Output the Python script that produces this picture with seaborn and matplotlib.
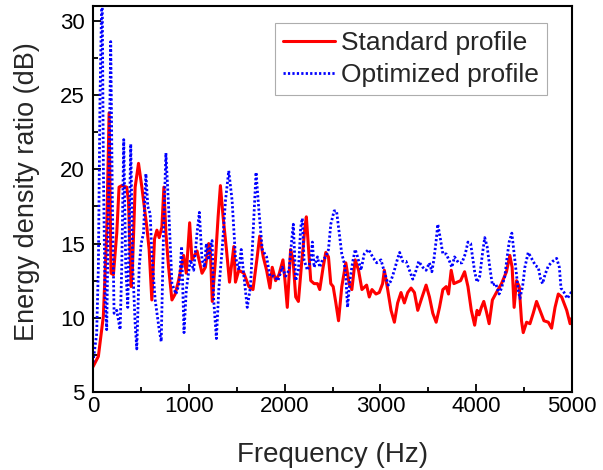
import matplotlib
matplotlib.use("Agg")
import matplotlib.pyplot as plt
import seaborn as sns
import pandas as pd
from matplotlib.ticker import MultipleLocator

std_freq = [0, 56, 108, 143, 168, 188, 213, 248, 272, 300, 352, 370, 398, 412, 440, 475, 510, 562, 586, 614,
            642, 667, 691, 719, 740, 761, 789, 824, 858, 893, 946, 974, 1009, 1033, 1086, 1138, 1173, 1208, 1225, 1245,
            1278, 1306, 1330, 1358, 1393, 1425, 1470, 1487, 1522, 1575, 1627, 1670, 1714, 1740, 1777, 1812, 1847, 1871, 1906, 1941,
            1983, 2004, 2028, 2063, 2088, 2116, 2144, 2178, 2213, 2227, 2248, 2273, 2308, 2343, 2367, 2402, 2430, 2458, 2482, 2507,
            2535, 2563, 2597, 2639, 2674, 2702, 2737, 2772, 2807, 2856, 2884, 2912, 2954, 2988, 3023, 3041, 3076, 3111, 3146, 3180,
            3215, 3250, 3285, 3320, 3355, 3390, 3425, 3477, 3512, 3547, 3582, 3617, 3652, 3687, 3711, 3739, 3767, 3802, 3837, 3879,
            3914, 3949, 3984, 4009, 4030, 4054, 4079, 4107, 4135, 4169, 4211, 4264, 4316, 4351, 4375, 4396, 4421, 4449, 4473, 4491,
            4526, 4561, 4595, 4630, 4665, 4707, 4753, 4787, 4823, 4857, 4892, 4945, 4980, 5000]
std_db = [6.7, 7.4, 10.1, 15.7, 23.8, 13.0, 12.9, 15.7, 18.8, 18.9, 18.8, 17.9, 12.1, 13.4, 18.8, 20.4, 18.8, 16.1, 14.6, 11.2,
          15.3, 15.9, 15.4, 16.1, 18.8, 15.7, 13.4, 11.2, 11.6, 12.5, 14.2, 13.0, 16.4, 13.9, 14.5, 13.0, 13.4, 15.0, 14.5, 11.1,
          13.9, 16.8, 18.9, 16.8, 14.6, 12.4, 14.8, 12.4, 13.2, 13.0, 12.1, 11.9, 14.1, 15.5, 14.1, 13.2, 12.0, 13.4, 12.5, 12.9,
          13.9, 12.5, 10.7, 14.6, 13.9, 11.4, 11.1, 13.7, 16.1, 16.8, 14.8, 12.5, 12.3, 12.3, 11.9, 13.4, 14.4, 14.1, 12.3, 12.1,
          11.0, 9.8, 12.1, 13.7, 12.3, 11.9, 13.9, 13.2, 11.9, 12.2, 11.4, 11.9, 11.6, 11.7, 12.3, 13.2, 11.9, 10.5, 9.7, 11.0,
          11.7, 11.0, 11.7, 12.0, 11.7, 10.5, 11.2, 12.2, 11.4, 10.3, 9.7, 10.7, 11.9, 12.1, 11.6, 13.2, 12.3, 12.4, 12.5, 13.1,
          12.1, 10.5, 9.5, 10.5, 10.2, 10.7, 11.1, 10.4, 9.6, 11.2, 11.7, 12.3, 13.1, 14.2, 13.4, 10.7, 12.5, 12.1, 9.8, 9.0,
          9.7, 9.6, 10.3, 11.1, 10.5, 9.8, 9.7, 9.3, 10.7, 11.6, 11.4, 10.5, 9.6, 10.0]

opt_freq = [0, 38, 56, 73, 95, 108, 126, 143, 168, 185, 202, 220, 248, 283, 300, 321, 342, 363, 394, 415,
            440, 457, 482, 503, 527, 552, 572, 597, 614, 649, 691, 712, 736, 761, 789, 824, 866, 900, 925, 950,
            974, 1016, 1051, 1086, 1110, 1138, 1163, 1183, 1208, 1225, 1243, 1260, 1288, 1313, 1348, 1383, 1417, 1452, 1487, 1522,
            1547, 1575, 1610, 1644, 1679, 1702, 1732, 1767, 1812, 1847, 1889, 1931, 1976, 2011, 2046, 2074, 2091, 2116, 2144, 2168,
            2185, 2203, 2238, 2273, 2290, 2308, 2343, 2367, 2395, 2430, 2458, 2482, 2517, 2542, 2570, 2597, 2622, 2639, 2657, 2681,
            2709, 2737, 2762, 2797, 2831, 2877, 2919, 2961, 3006, 3041, 3069, 3083, 3111, 3146, 3180, 3201, 3233, 3268, 3303, 3338,
            3373, 3400, 3442, 3477, 3512, 3537, 3558, 3582, 3599, 3624, 3652, 3687, 3722, 3746, 3774, 3816, 3851, 3886, 3914, 3942,
            3966, 3984, 4009, 4037, 4065, 4089, 4114, 4142, 4169, 4204, 4239, 4264, 4299, 4323, 4344, 4372, 4396, 4421, 4438, 4456,
            4484, 4508, 4543, 4578, 4620, 4648, 4672, 4693, 4718, 4753, 4798, 4840, 4868, 4885, 4917, 4952, 4980, 5000]
opt_db = [7.0, 8.9, 13.4, 24.7, 33.0, 20.2, 11.2, 9.2, 20.2, 28.6, 17.9, 10.3, 10.5, 9.2, 13.4, 22.0, 13.4, 10.7, 21.7, 13.4,
          9.6, 7.9, 13.4, 15.0, 15.7, 19.7, 17.5, 17.0, 14.3, 11.2, 9.2, 8.4, 15.7, 21.1, 17.5, 12.3, 11.6, 12.3, 14.8, 9.0,
          11.9, 13.9, 13.2, 15.7, 17.1, 13.9, 13.4, 15.0, 13.9, 14.8, 15.2, 11.2, 8.6, 11.9, 14.6, 17.9, 19.9, 17.9, 14.1, 13.2,
          14.6, 12.8, 10.7, 12.1, 16.8, 19.8, 17.2, 14.6, 14.1, 12.8, 12.8, 12.5, 13.4, 12.8, 13.2, 15.2, 16.3, 12.5, 13.2, 16.1,
          16.7, 13.9, 13.2, 13.9, 15.1, 13.4, 14.1, 13.4, 13.9, 14.1, 14.6, 16.3, 17.2, 17.2, 15.7, 14.3, 13.7, 12.8, 10.7, 12.5,
          13.7, 14.6, 14.1, 13.2, 14.3, 14.6, 14.1, 13.7, 13.9, 13.1, 12.5, 12.2, 12.5, 13.2, 14.0, 14.4, 13.8, 13.8, 13.2, 12.6,
          13.2, 13.8, 13.4, 13.2, 13.7, 13.1, 13.9, 15.2, 16.3, 15.4, 14.3, 14.3, 13.8, 13.4, 14.1, 13.7, 13.7, 14.3, 15.1, 15.0,
          13.9, 13.1, 12.4, 12.8, 14.3, 15.4, 14.8, 13.4, 12.2, 12.3, 11.6, 12.0, 12.8, 14.1, 15.1, 15.7, 14.3, 12.8, 11.9, 11.3,
          12.1, 13.4, 14.4, 14.0, 13.5, 13.4, 12.6, 12.3, 12.9, 13.5, 13.8, 14.0, 13.4, 12.0, 11.7, 11.3, 11.6, 11.8]

series_names = ["Standard profile", "Optimized profile"]

sns.set_style("white")
plt.rcParams["font.family"] = ["Liberation Sans", "DejaVu Sans"]

fig = plt.figure(figsize=(6.03, 4.70), dpi=100)
ax = fig.add_axes([93 / 603, 1 - 392 / 470, (572 - 93) / 603, (392 - 6) / 470])

df_std = pd.DataFrame({"f": std_freq, "v": std_db})
df_opt = pd.DataFrame({"f": opt_freq, "v": opt_db})
sns.lineplot(data=df_std, x="f", y="v", ax=ax, color="#ff0000", lw=2.2,
             label=series_names[0], estimator=None, sort=False)
sns.lineplot(data=df_opt, x="f", y="v", ax=ax, color="#0000ff", lw=2.0,
             linestyle=(0, (0.8, 0.8)), label=series_names[1], estimator=None, sort=False)

ax.set_xlim(0, 5000)
ax.set_ylim(5, 31)
ax.xaxis.set_major_locator(MultipleLocator(1000))
ax.xaxis.set_minor_locator(MultipleLocator(500))
ax.yaxis.set_major_locator(MultipleLocator(5))
ax.yaxis.set_minor_locator(MultipleLocator(2.5))
ax.tick_params(axis="both", which="both", direction="in", top=False, right=False,
               bottom=True, left=True, labelsize=16, color="black", labelcolor="black")
ax.tick_params(axis="both", which="major", length=6, width=1.3)
ax.tick_params(axis="both", which="minor", length=3.5, width=1.3)
ax.tick_params(axis="x", which="major", pad=3)
ax.tick_params(axis="y", which="major", pad=6)
for s in ax.spines.values():
    s.set_visible(True)
    s.set_color("black")
    s.set_linewidth(1.5)

ax.set_xlabel("Frequency (Hz)", fontsize=20)
ax.set_ylabel("Energy density ratio (dB)", fontsize=19.5)
ax.xaxis.set_label_coords(0.5, -0.13)
ax.yaxis.set_label_coords(-0.11, 0.52)

leg = ax.legend(loc="upper right", bbox_to_anchor=(0.948, 0.956), borderaxespad=0,
                fontsize=19, frameon=True, fancybox=False, handlelength=1.95,
                handletextpad=0.25, labelspacing=0.3, borderpad=0.3)
leg.get_frame().set_edgecolor("#999999")
leg.get_frame().set_linewidth(0.8)

fig.savefig("out.png", dpi=100)
